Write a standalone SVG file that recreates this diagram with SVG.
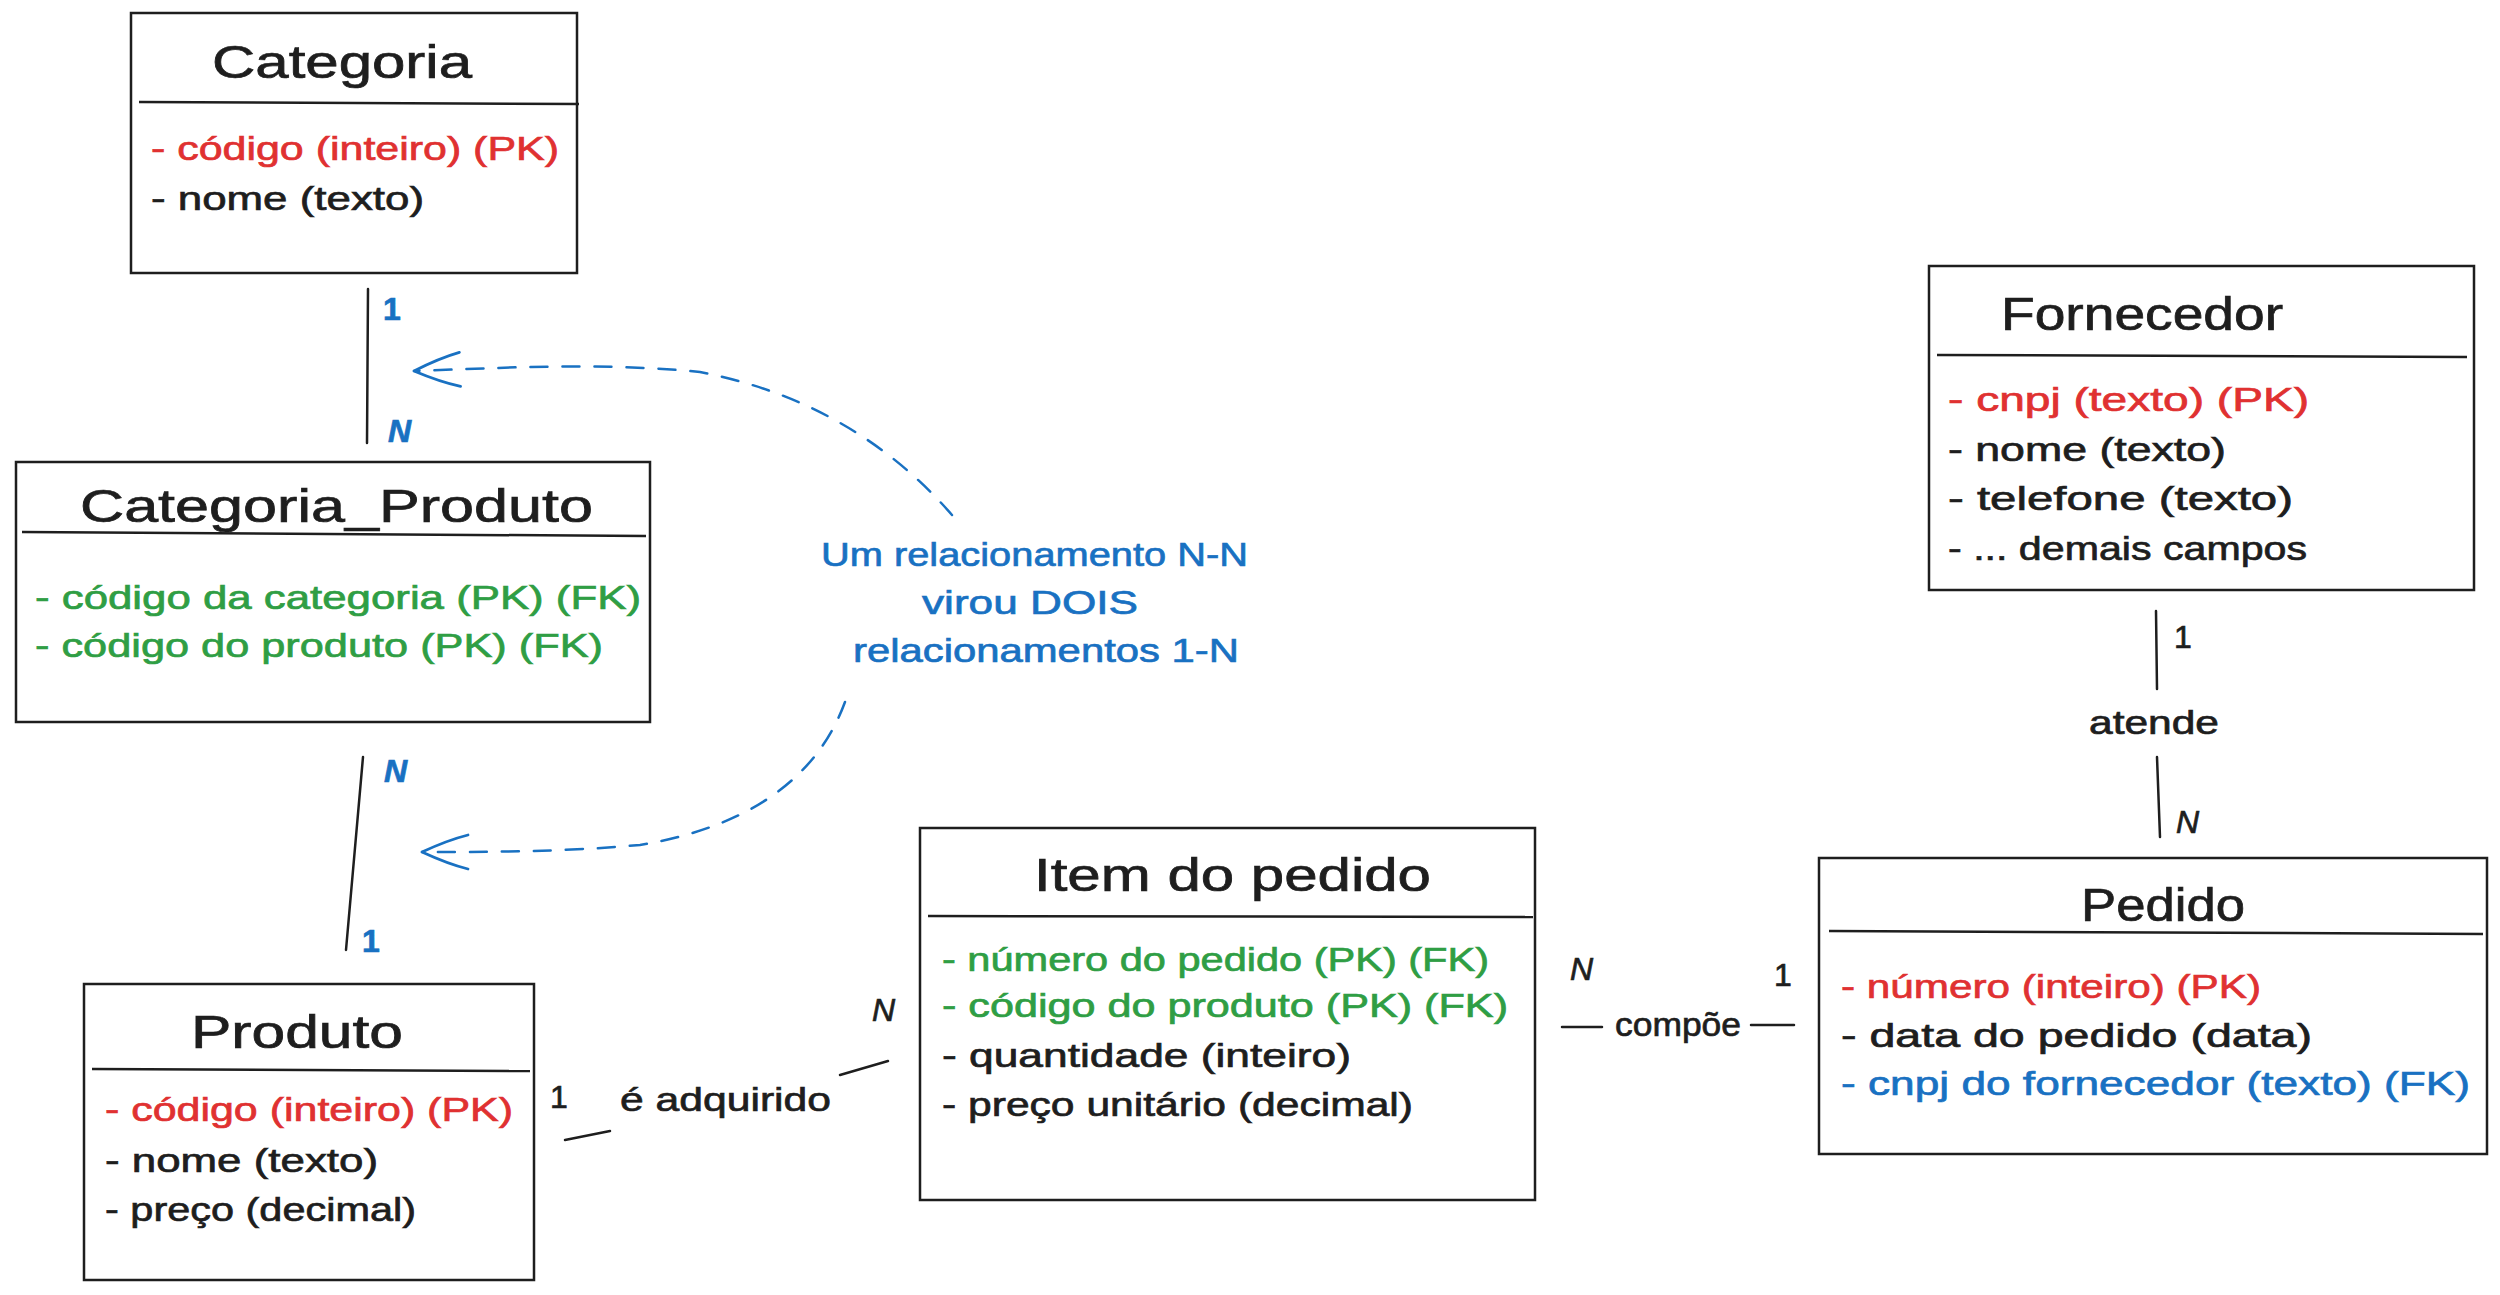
<svg xmlns="http://www.w3.org/2000/svg" width="2500" height="1295" viewBox="0 0 2500 1295">
<style>
  .box { fill: #ffffff; stroke: #1e1e1e; stroke-width: 2.5; }
  .div { stroke: #1e1e1e; stroke-width: 2.5; fill: none; }
  text { font-family: "Liberation Sans", Arial, sans-serif; stroke-width: 0.7; }
  .title { font-size: 46px; fill: #1e1e1e; stroke: #1e1e1e; }
  .attr { font-size: 34px; fill: #1e1e1e; stroke: #1e1e1e; }
  .red { fill: #e03131; stroke: #e03131; }
  .green { fill: #2f9e44; stroke: #2f9e44; }
  .blue { fill: #1971c2; stroke: #1971c2; }
  .card { font-size: 32px; fill: #1e1e1e; stroke: #1e1e1e; }
  .cardb { font-size: 32px; fill: #1971c2; stroke: #1971c2; font-weight: bold; }
  .it { font-style: italic; }
  .lbl { font-size: 34px; fill: #1e1e1e; stroke: #1e1e1e; }
  .note { font-size: 34px; fill: #1971c2; stroke: #1971c2; }
  .ln { stroke: #1e1e1e; stroke-width: 2.5; fill: none; stroke-linecap: round; }
  .dash { stroke: #1971c2; stroke-width: 2.5; fill: none; stroke-dasharray: 17 15; stroke-linecap: round; }
</style>
<defs>
  <marker id="chev" viewBox="0 0 50 50" refX="48" refY="25" markerWidth="50" markerHeight="50" markerUnits="userSpaceOnUse" orient="auto">
    <path d="M 2 8 Q 22 13 48 25 Q 22 37 2 42" fill="none" stroke="#1971c2" stroke-width="2.8" stroke-linecap="round" stroke-linejoin="round"/>
  </marker>
</defs>
<rect width="2500" height="1295" fill="#ffffff"/>

<g id="connectors">
  <line class="ln" x1="368" y1="289" x2="367" y2="443"/>
  <text class="cardb" x="383" y="320">1</text>
  <text class="cardb it" x="388" y="442">N</text>

  <line class="ln" x1="363" y1="757" x2="346" y2="950"/>
  <text class="cardb it" x="384" y="782">N</text>
  <text class="cardb" x="362" y="952">1</text>

  <path class="dash" d="M 952 515 C 900 455, 820 395, 700 372 C 600 362, 500 368, 414 371" marker-end="url(#chev)"/>
  <path class="dash" d="M 845 702 C 820 770, 760 825, 640 845 C 560 852, 490 852, 422 852" marker-end="url(#chev)"/>

  <line class="ln" x1="565" y1="1140" x2="610" y2="1131"/>
  <line class="ln" x1="840" y1="1075" x2="888" y2="1061" stroke-width="4"/>
  <text class="card" x="550" y="1108">1</text>
  <text class="lbl" x="620" y="1111" textLength="211" lengthAdjust="spacingAndGlyphs">é adquirido</text>
  <text class="card it" x="872" y="1021">N</text>

  <line class="ln" x1="1562" y1="1027" x2="1602" y2="1027"/>
  <line class="ln" x1="1751" y1="1025" x2="1794" y2="1025"/>
  <text class="card it" x="1570" y="980">N</text>
  <text class="card" x="1774" y="986">1</text>
  <text class="lbl" x="1615" y="1036" textLength="126" lengthAdjust="spacingAndGlyphs">compõe</text>

  <line class="ln" x1="2156" y1="611" x2="2157" y2="689"/>
  <line class="ln" x1="2157" y1="757" x2="2160" y2="837" stroke-width="3.5"/>
  <text class="card" x="2174" y="648">1</text>
  <text class="lbl" x="2089" y="734" textLength="130" lengthAdjust="spacingAndGlyphs">atende</text>
  <text class="card it" x="2176" y="833">N</text>
</g>

<g id="note">
  <text class="note" x="821" y="566" textLength="427" lengthAdjust="spacingAndGlyphs">Um relacionamento N-N</text>
  <text class="note" x="922" y="614" textLength="216" lengthAdjust="spacingAndGlyphs">virou DOIS</text>
  <text class="note" x="853" y="662" textLength="386" lengthAdjust="spacingAndGlyphs">relacionamentos 1-N</text>
</g>

<g id="categoria">
  <rect class="box" x="131" y="13" width="446" height="260"/>
  <line class="div" x1="139" y1="102" x2="579" y2="104"/>
  <text class="title" x="212" y="78" textLength="260" lengthAdjust="spacingAndGlyphs">Categoria</text>
  <text class="attr red" x="151" y="160" textLength="408" lengthAdjust="spacingAndGlyphs">- código (inteiro) (PK)</text>
  <text class="attr" x="151" y="210" textLength="273" lengthAdjust="spacingAndGlyphs">- nome (texto)</text>
</g>

<g id="categoria_produto">
  <rect class="box" x="16" y="462" width="634" height="260"/>
  <line class="div" x1="22" y1="532" x2="646" y2="536"/>
  <text class="title" x="80" y="522" textLength="513" lengthAdjust="spacingAndGlyphs">Categoria_Produto</text>
  <text class="attr green" x="35" y="609" textLength="606" lengthAdjust="spacingAndGlyphs">- código da categoria (PK) (FK)</text>
  <text class="attr green" x="35" y="657" textLength="568" lengthAdjust="spacingAndGlyphs">- código do produto (PK) (FK)</text>
</g>

<g id="produto">
  <rect class="box" x="84" y="984" width="450" height="296"/>
  <line class="div" x1="92" y1="1069" x2="530" y2="1071"/>
  <text class="title" x="191" y="1048" textLength="212" lengthAdjust="spacingAndGlyphs">Produto</text>
  <text class="attr red" x="105" y="1121" textLength="408" lengthAdjust="spacingAndGlyphs">- código (inteiro) (PK)</text>
  <text class="attr" x="105" y="1172" textLength="273" lengthAdjust="spacingAndGlyphs">- nome (texto)</text>
  <text class="attr" x="105" y="1221" textLength="311" lengthAdjust="spacingAndGlyphs">- preço (decimal)</text>
</g>

<g id="item_do_pedido">
  <rect class="box" x="920" y="828" width="615" height="372"/>
  <line class="div" x1="928" y1="916" x2="1533" y2="917"/>
  <text class="title" x="1034" y="891" textLength="397" lengthAdjust="spacingAndGlyphs">Item do pedido</text>
  <text class="attr green" x="942" y="971" textLength="547" lengthAdjust="spacingAndGlyphs">- número do pedido (PK) (FK)</text>
  <text class="attr green" x="942" y="1017" textLength="566" lengthAdjust="spacingAndGlyphs">- código do produto (PK) (FK)</text>
  <text class="attr" x="942" y="1067" textLength="409" lengthAdjust="spacingAndGlyphs">- quantidade (inteiro)</text>
  <text class="attr" x="942" y="1116" textLength="471" lengthAdjust="spacingAndGlyphs">- preço unitário (decimal)</text>
</g>

<g id="fornecedor">
  <rect class="box" x="1929" y="266" width="545" height="324"/>
  <line class="div" x1="1937" y1="355" x2="2467" y2="357"/>
  <text class="title" x="2001" y="330" textLength="282" lengthAdjust="spacingAndGlyphs">Fornecedor</text>
  <text class="attr red" x="1948" y="411" textLength="361" lengthAdjust="spacingAndGlyphs">- cnpj (texto) (PK)</text>
  <text class="attr" x="1948" y="461" textLength="278" lengthAdjust="spacingAndGlyphs">- nome (texto)</text>
  <text class="attr" x="1948" y="510" textLength="345" lengthAdjust="spacingAndGlyphs">- telefone (texto)</text>
  <text class="attr" x="1948" y="560" textLength="359" lengthAdjust="spacingAndGlyphs">- ... demais campos</text>
</g>

<g id="pedido">
  <rect class="box" x="1819" y="858" width="668" height="296"/>
  <line class="div" x1="1829" y1="931" x2="2483" y2="934"/>
  <text class="title" x="2081" y="921" textLength="164" lengthAdjust="spacingAndGlyphs">Pedido</text>
  <text class="attr red" x="1841" y="998" textLength="420" lengthAdjust="spacingAndGlyphs">- número (inteiro) (PK)</text>
  <text class="attr" x="1841" y="1047" textLength="471" lengthAdjust="spacingAndGlyphs">- data do pedido (data)</text>
  <text class="attr blue" x="1841" y="1095" textLength="629" lengthAdjust="spacingAndGlyphs">- cnpj do fornecedor (texto) (FK)</text>
</g>
</svg>
